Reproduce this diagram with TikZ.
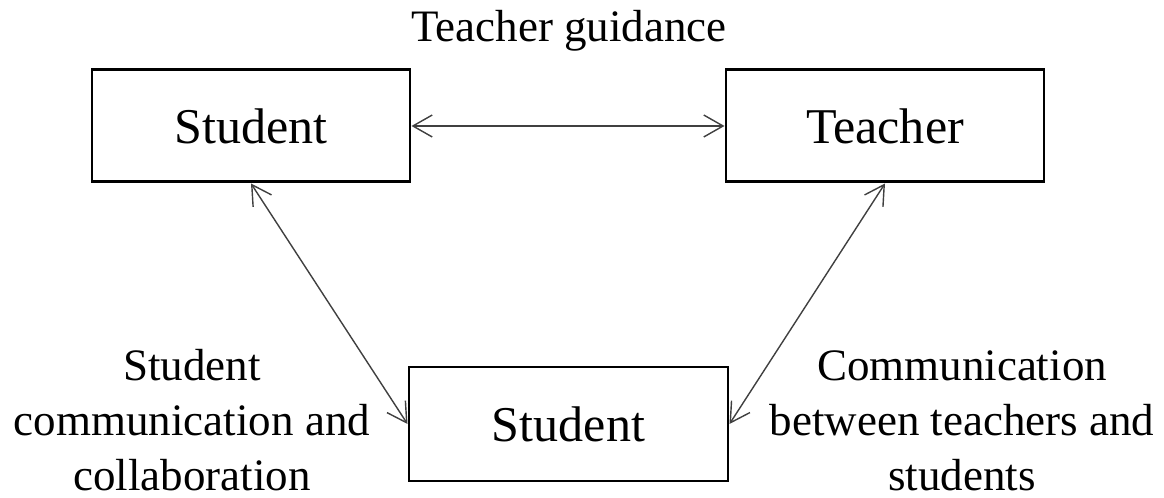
\documentclass[tikz,border=0pt]{standalone}
\usepackage{fontspec}
\setmainfont{Liberation Serif}
\usetikzlibrary{arrows.meta}

\begin{document}
\begin{tikzpicture}
   [
   rolebox/.style={rectangle, draw=black, fill=white, line width=1.7pt, minimum width=6.36cm, minimum height=2.24cm, inner sep=0pt, font=\fontsize{28.5}{34}\selectfont},
   labeltext/.style={align=center, inner sep=0pt, anchor=base, font=\fontsize{25.6}{31.3}\selectfont},
   link/.style={draw=black!75, line width=0.8pt, {Straight Barb[length=11pt,width=12.5pt]}-{Straight Barb[length=11pt,width=12.5pt]}},
   ]
 \useasboundingbox (0,0) rectangle (23.28,9.96);
 \node at (5.02,7.44) [rolebox] (stu1) {Student};
 \node at (17.7,7.44) [rolebox] (tea) {Teacher};
 \node at (11.37,1.48) [rolebox, minimum width=6.38cm, minimum height=2.28cm] (stu2) {Student};
 \node at (11.38,9.12) [labeltext] (guide) {Teacher guidance};
 \node at (3.84,0.14) [labeltext] (collab) {Student\\communication and\\collaboration};
 \node at (19.24,0.14) [labeltext] (comm) {Communication\\between teachers and\\students};
 \draw[link] (stu1.east) -- (tea.west);
 \draw[link] (stu1.south) -- (stu2.west);
 \draw[link] (tea.south) -- (stu2.east);
\end{tikzpicture}
\end{document}
